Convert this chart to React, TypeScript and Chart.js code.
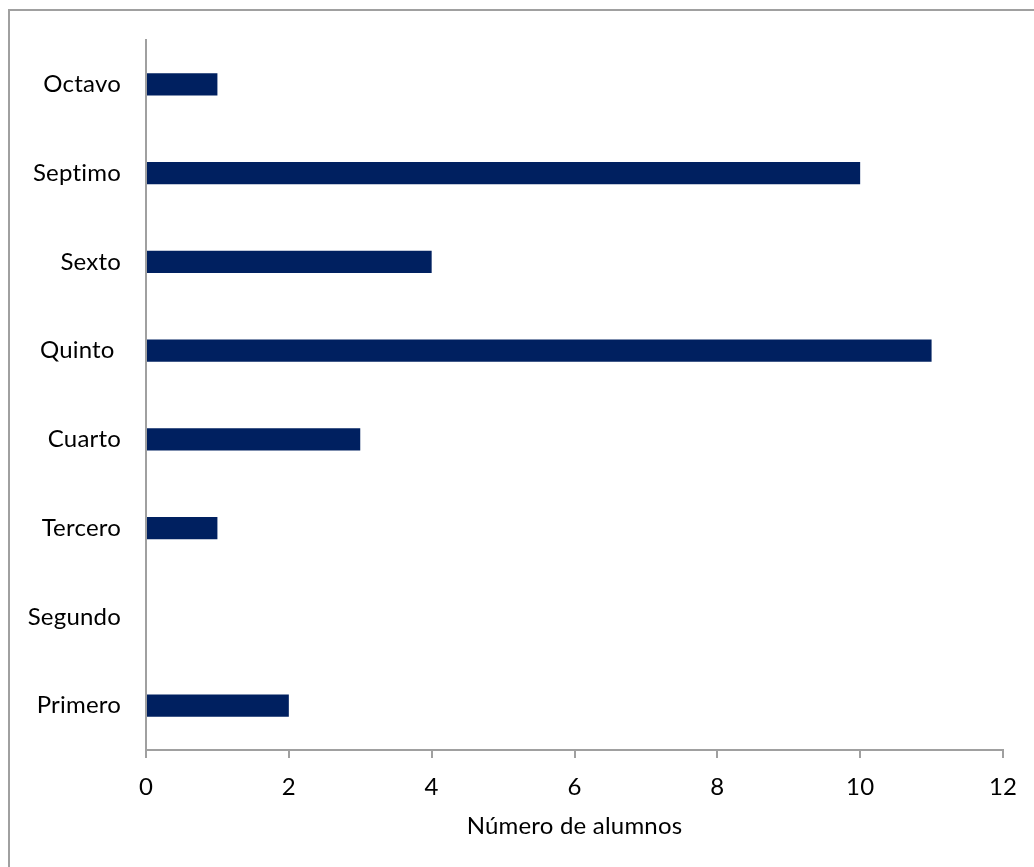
import React, { useEffect, useRef } from "react";
import { Chart, registerables } from "chart.js";

Chart.register(...registerables);

const categories = ["Primero", "Segundo", "Tercero", "Cuarto", "Quinto ", "Sexto", "Septimo", "Octavo"];
const alumnos = [2, 0, 1, 3, 11, 4, 10, 1];
const xTicks = [0, 2, 4, 6, 8, 10, 12];
const xTitle = "Número de alumnos";

const FONT = "Lato, 'Open Sans', sans-serif";
const AXIS = "#a0a0a0";

const noLigatures = {
  id: "noLigatures",
  beforeDraw(chart: any) {
    try {
      (chart.ctx as any).letterSpacing = "0.2px";
    } catch (e) {}
  },
};

export default function App() {
  const ref = useRef<HTMLCanvasElement | null>(null);
  useEffect(() => {
    if (!ref.current) return;
    const chart = new Chart(ref.current, {
      type: "bar",
      data: {
        labels: categories,
        datasets: [
          {
            data: alumnos,
            backgroundColor: "#002060",
            borderWidth: 0,
            barPercentage: 0.25,
            categoryPercentage: 1,
          },
        ],
      },
      plugins: [noLigatures],
      options: {
        indexAxis: "y",
        animation: false,
        responsive: false,
        maintainAspectRatio: false,
        layout: { padding: { left: 0, right: 31, top: 40, bottom: 0 } },
        plugins: { legend: { display: false }, tooltip: { enabled: false }, title: { display: false } },
        scales: {
          x: {
            type: "linear",
            min: 0,
            max: 12,
            afterBuildTicks: (scale: any) => {
              scale.ticks = xTicks.map((v) => ({ value: v }));
            },
            afterFit: (scale: any) => {
              scale.height = 117;
            },
            grid: {
              drawOnChartArea: false,
              drawTicks: true,
              tickLength: 8,
              color: AXIS,
              lineWidth: 2,
            },
            border: { display: true, color: AXIS, width: 2 },
            ticks: {
              color: "#000",
              padding: 15,
              font: { family: FONT, size: 24 },
              maxRotation: 0,
            },
            title: {
              display: true,
              text: xTitle,
              color: "#000",
              font: { family: FONT, size: 24 },
              padding: { top: 0, bottom: 26 },
            },
          },
          y: {
            type: "category",
            reverse: true,
            afterFit: (scale: any) => {
              scale.width = 146;
            },
            grid: { display: false, drawTicks: false },
            border: { display: true, color: AXIS, width: 2 },
            ticks: {
              color: "#000",
              padding: 25,
              font: { family: FONT, size: 24 },
            },
          },
        },
      },
    });
    return () => chart.destroy();
  }, []);

  return (
    <div>
      <div
        style={{
          position: "fixed",
          left: 8,
          top: 9,
          width: 1100,
          height: 900,
          borderLeft: `2px solid ${AXIS}`,
          borderTop: `2px solid ${AXIS}`,
          boxSizing: "border-box",
        }}
      />
      <div style={{ position: "fixed", left: 0, top: 0, width: 1034, height: 867 }}>
        <canvas ref={ref} width={1034} height={867} style={{ width: 1034, height: 867, display: "block" }} />
      </div>
    </div>
  );
}
